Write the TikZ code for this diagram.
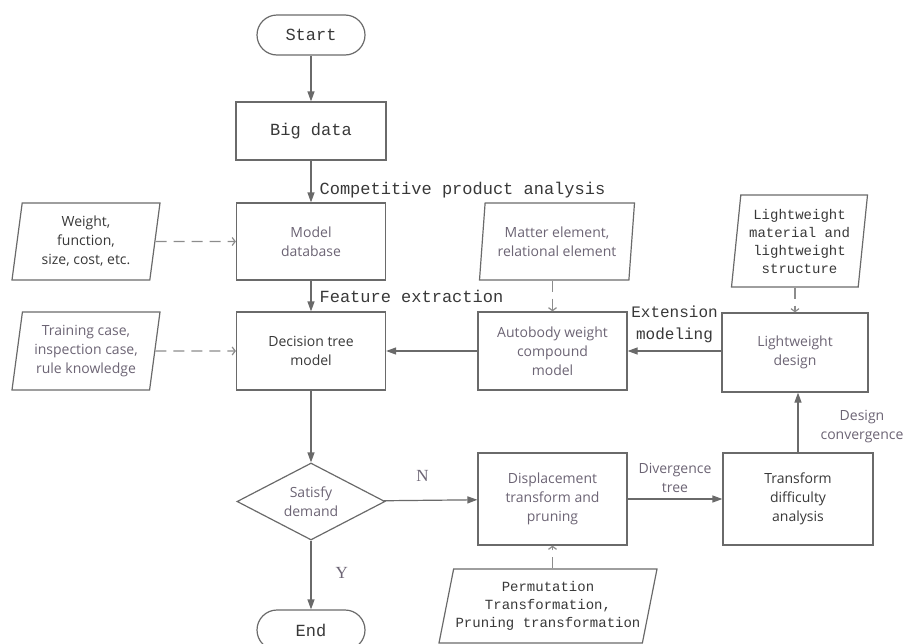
\documentclass[tikz,border=0pt]{standalone}
\usepackage{fontspec}
\setmainfont{Liberation Serif}
\setsansfont{Open Sans}
\newfontfamily\simfont{Liberation Mono}
\usetikzlibrary{arrows.meta,shapes.geometric}

\begin{document}
\begin{tikzpicture}[x=1pt,y=-1pt,line width=1.2pt,
	box/.style={rectangle, draw=linegray, minimum width=149, minimum height=78, align=center, inner sep=2},
	term/.style={rectangle, rounded corners=20, draw=linegray, minimum width=108, minimum height=40, text=textdark, font=\simfont\fontsize{17}{20}\selectfont},
	datain/.style={trapezium, trapezium stretches body, trapezium left angle=#1, trapezium right angle=180-#1, draw=linegray, align=center, inner sep=1},
	sanstext/.style={font=\sffamily\fontsize{14}{19}\selectfont, text=#1},
	monotext/.style 2 args={font=\simfont\fontsize{#1}{#2}\selectfont, text=textdark},
	flow/.style={draw=linegray, -{Triangle[length=10pt,width=7pt]}},
	feed/.style={draw=dashgray, dash pattern=on 11pt off 7pt, -{Straight Barb[length=3pt,width=8pt]}},
	tag/.style={inner sep=0, align=center}]
	\definecolor{linegray}{HTML}{6A6A6A}
	\definecolor{dashgray}{HTML}{8C8C8C}
	\definecolor{textdark}{HTML}{383838}
	\definecolor{textsoft}{HTML}{6C6474}
	\useasboundingbox (0,0) rectangle (907,643);
	\node (start) at (311,35) [term] {Start};
	\node (bigdata) at (311,131) [box, minimum width=150, minimum height=58, monotext={17}{20}] {Big data};
	\node (modeldb) at (311,241.5) [box, minimum height=77, sanstext=textsoft] {Model\\database};
	\node (dtree) at (311,351) [box, sanstext=textdark] {Decision tree\\model};
	\node (satisfy) at (311,501.5) [diamond, aspect=2, draw=linegray, inner sep=0, minimum width=148, minimum height=77, align=center, sanstext=textsoft] {Satisfy\\demand};
	\node (end) at (311,630) [term] {End};
	\node (weight) at (86,241.5) [datain=79, minimum width=148, minimum height=77, sanstext=textdark] {Weight,\\function,\\size, cost, etc.};
	\node (training) at (86,351) [datain=79, minimum width=148, minimum height=78, sanstext=textsoft] {Training case,\\inspection case,\\rule knowledge};
	\node (autobody) at (552.5,351) [box, sanstext=textsoft] {Autobody weight\\compound\\model};
	\node (matter) at (557,241.5) [datain=80, minimum width=155, minimum height=77, sanstext=textsoft] {Matter element,\\relational element};
	\node (lwdesign) at (795,352.5) [box, minimum width=146, minimum height=79, sanstext=textsoft] {Lightweight\\design};
	\node (lwmat) at (799.5,241) [datain=82, minimum width=136, minimum height=92, monotext={14}{18}] {Lightweight\\material and\\lightweight\\structure};
	\node (displace) at (552.5,499) [box, minimum height=92, sanstext=textsoft] {Displacement\\transform and\\pruning};
	\node (transform) at (798,499) [box, minimum width=150, minimum height=92, sanstext=textdark] {Transform\\difficulty\\analysis};
	\node (perm) at (548,606) [datain=74, minimum width=218, minimum height=74, monotext={14}{18}] {Permutation\\Transformation,\\Pruning transformation};
	\draw[flow] (start) -- (bigdata);
	\draw[flow] (bigdata) -- (modeldb) node[pos=0.7, right=8pt, tag, monotext={17}{20}] {Competitive product analysis};
	\draw[flow] (modeldb) -- (dtree) node[pos=0.5, right=8pt, tag, monotext={17}{20}] {Feature extraction};
	\draw[feed] (weight) -- (modeldb);
	\draw[feed] (training) -- (dtree);
	\draw[flow] (autobody) -- (dtree);
	\draw[feed] (autobody.north |- matter.south) -- (autobody.north);
	\draw[flow] (lwdesign.west |- autobody) -- (autobody) node[midway, above=8pt, tag, monotext={16}{22}] {Extension\\modeling};
	\draw[feed] (lwdesign.north |- lwmat.south) -- (lwdesign.north);
	\draw[flow] (dtree) -- (satisfy);
	\draw[flow] (satisfy) -- (displace) node[pos=0.41, above=18pt, tag, font=\fontsize{17}{20}\selectfont, text=textsoft] {N};
	\draw[flow] (satisfy) -- (end) node[pos=0.47, right=24pt, tag, font=\fontsize{17}{20}\selectfont, text=textsoft] {Y};
	\draw[feed] (displace.south |- perm.north) -- (displace.south);
	\draw[flow] (displace) -- (transform) node[midway, above=6pt, tag, sanstext=textsoft] {Divergence\\tree};
	\draw[flow] (transform.north) -- (transform.north |- lwdesign.south) node[pos=0.44, right=22pt, tag, sanstext=textsoft] {Design\\convergence};
\end{tikzpicture}
\end{document}
